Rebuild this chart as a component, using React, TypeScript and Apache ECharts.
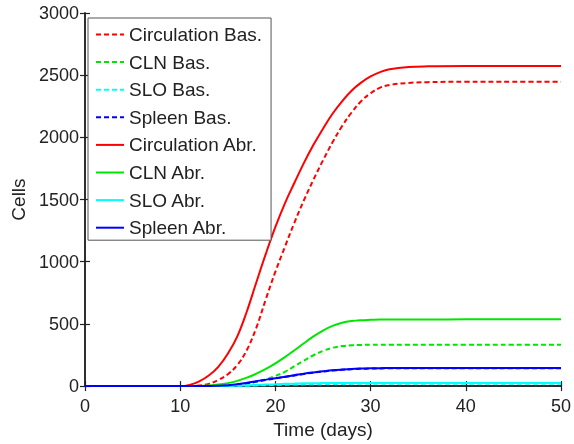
import React, { useEffect, useRef } from "react";
import * as echarts from "echarts";

const times = [0, 10, 11, 12, 13, 14, 15, 16, 17, 18, 19, 20, 21, 22, 23, 24, 25, 26, 27, 28, 29, 30, 31, 32, 34, 36, 40, 45, 50];

const circulationBas = [0, 0, 0, 5, 18, 50, 95, 170, 290, 470, 700, 920, 1120, 1315, 1495, 1660, 1815, 1960, 2090, 2200, 2290, 2355, 2400, 2422, 2438, 2444, 2447, 2447, 2447];
const clnBas = [0, 0, 0, 0, 0, 2, 6, 12, 20, 35, 55, 82, 115, 160, 205, 248, 283, 308, 322, 328, 331, 332, 332, 332, 333, 333, 333, 333, 333];
const sloBas = [0, 0, 0, 0, 0, 0, 1, 2, 3, 5, 7, 9, 11, 13, 14, 15, 16, 17, 17, 18, 18, 18, 18, 18, 18, 18, 18, 18, 18];
const spleenBas = [0, 0, 0, 0, 0, 2, 5, 12, 23, 36, 49, 62, 74, 86, 98, 108, 117, 125, 131, 136, 139, 141, 142, 143, 144, 144, 144, 144, 144];
const circulationAbr = [0, 0, 10, 38, 85, 155, 260, 400, 600, 835, 1065, 1280, 1470, 1635, 1795, 1940, 2070, 2190, 2290, 2375, 2440, 2490, 2525, 2548, 2566, 2571, 2573, 2573, 2573];
const clnAbr = [0, 0, 0, 1, 5, 12, 24, 42, 68, 100, 138, 183, 233, 288, 345, 400, 447, 484, 509, 523, 530, 533, 535, 535, 536, 536, 537, 537, 537];
const sloAbr = [0, 0, 0, 0, 0, 1, 2, 4, 6, 9, 12, 15, 18, 20, 22, 23, 24, 25, 25, 25, 25, 25, 25, 25, 25, 25, 25, 25, 25];
const spleenAbr = [0, 0, 0, 0, 1, 3, 7, 15, 27, 40, 52, 64, 76, 88, 100, 110, 119, 127, 133, 138, 141, 143, 144, 145, 146, 146, 146, 146, 146];

const seriesNames = [
  "Circulation Bas.", "CLN Bas.", "SLO Bas.", "Spleen Bas.",
  "Circulation Abr.", "CLN Abr.", "SLO Abr.", "Spleen Abr.",
];
const seriesValues = [circulationBas, clnBas, sloBas, spleenBas, circulationAbr, clnAbr, sloAbr, spleenAbr];
const seriesColors = ["#ff0000", "#00e600", "#00ffff", "#0000ff", "#ff0000", "#00e600", "#00ffff", "#0000ff"];
const seriesDashed = [true, true, true, true, false, false, false, false];

const FONT = "'Liberation Sans', Arial, Helvetica, sans-serif";

export default function App() {
  const ref = useRef<HTMLDivElement>(null);
  useEffect(() => {
    if (!ref.current) return;
    const chart = echarts.init(ref.current, undefined, { renderer: "svg" });
    const axisLine = { show: true, lineStyle: { color: "#222", width: 1.5 } };
    const tick = { show: true, inside: true, length: 5, lineStyle: { color: "#222", width: 1.2 } };
    const plain = (v: number) => String(v);
    chart.setOption({
      animation: false,
      textStyle: { fontFamily: FONT },
      grid: { left: 85, right: 9, top: 13, bottom: 53, containLabel: false },
      legend: {
        orient: "vertical",
        left: 88,
        top: 18,
        padding: [7, 9, 3, 7],
        itemWidth: 28,
        itemHeight: 14,
        itemGap: 8.6,
        backgroundColor: "#fff",
        borderColor: "#555",
        borderWidth: 1,
        borderRadius: 0,
        itemStyle: { opacity: 0 },
        textStyle: { fontSize: 19, color: "#222", fontFamily: FONT, lineHeight: 19 },
        data: seriesNames,
      },
      xAxis: [
        {
          type: "value", min: 0, max: 50, interval: 10, position: "bottom",
          name: "Time (days)", nameLocation: "middle", nameGap: 30,
          nameTextStyle: { fontSize: 19, color: "#222", fontFamily: FONT },
          axisLine, axisTick: tick, splitLine: { show: false },
          axisLabel: { fontSize: 18, color: "#222", margin: 11, fontFamily: FONT, formatter: plain },
        },
        {
          type: "value", min: 0, max: 50, interval: 10, position: "top",
          axisLine, axisTick: tick, splitLine: { show: false }, axisLabel: { show: false },
        },
      ],
      yAxis: [
        {
          type: "value", min: 0, max: 3000, interval: 500, position: "left",
          name: "Cells", nameLocation: "middle", nameGap: 53, nameRotate: 90,
          nameTextStyle: { fontSize: 19, color: "#222", fontFamily: FONT },
          axisLine, axisTick: tick, splitLine: { show: false },
          axisLabel: { fontSize: 18, color: "#222", margin: 6, fontFamily: FONT, formatter: plain },
        },
        {
          type: "value", min: 0, max: 3000, interval: 500, position: "right",
          axisLine, axisTick: tick, splitLine: { show: false }, axisLabel: { show: false },
        },
      ],
      series: seriesNames.map((name, i) => ({
        name,
        type: "line",
        xAxisIndex: 0,
        yAxisIndex: 0,
        symbol: "none",
        smooth: 0.4,
        color: seriesColors[i],
        lineStyle: { color: seriesColors[i], width: 2, type: seriesDashed[i] ? [5, 3] : "solid" },
        data: times.map((t, k) => [t, seriesValues[i][k]]),
        z: i < 4 ? 2 : 3,
      })),
    });
    return () => chart.dispose();
  }, []);
  return <div ref={ref} style={{ position: "fixed", left: 0, top: 0, width: 574, height: 444 }} />;
}
